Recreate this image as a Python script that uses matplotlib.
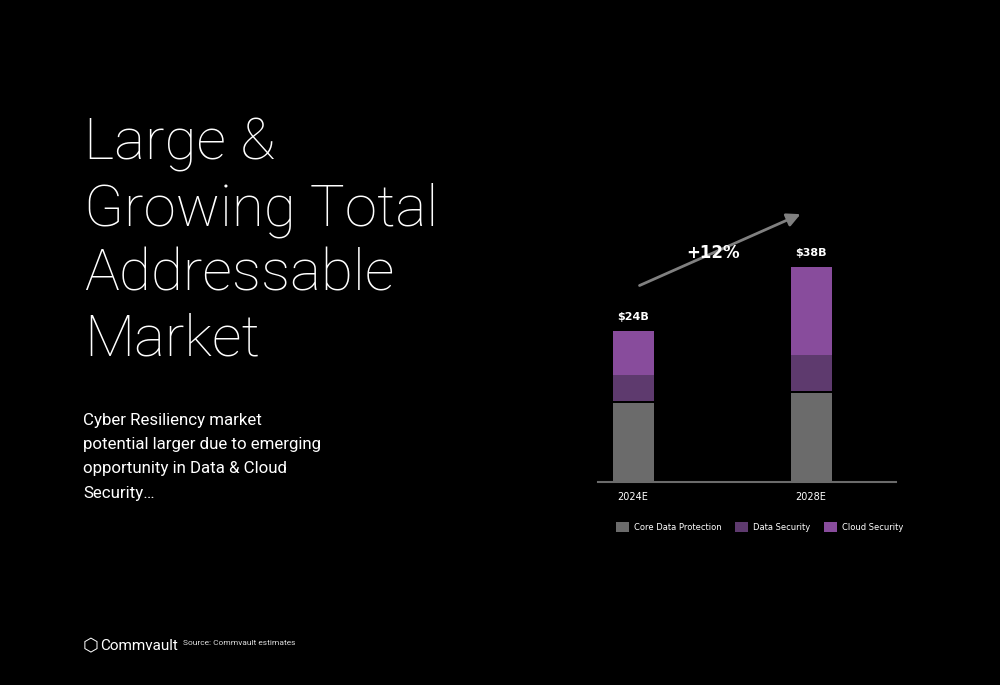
import matplotlib
matplotlib.use("Agg")
import matplotlib.pyplot as plt

years = ["2024E", "2028E"]
core = [14.0, 15.7]
data_sec = [4.9, 6.7]
cloud_sec = [7.8, 15.6]
totals = ["$24B", "$38B"]
cagr = "+12%"

GRAY = "#6b6b6b"
DPURP = "#5e3a6e"
PURP = "#884c9c"
NARROW = "Liberation Sans Narrow"

fig = plt.figure(figsize=(10, 6.85), dpi=100, facecolor="black")

# left-hand text
title = ["Large &", "Growing Total", "Addressable", "Market"]
for i, line in enumerate(title):
    fig.text(0.084, 1 - (145 + 65 * i) / 685, line, color="white", fontsize=42,
             family="Roboto", weight="light", va="center")
sub = ["Cyber Resiliency market", "potential larger due to emerging",
       "opportunity in Data & Cloud", "Security\u2026"]
for i, line in enumerate(sub):
    fig.text(0.083, 1 - (420 + 24.5 * i) / 685, line, color="white", fontsize=12.2,
             family="Roboto", va="center")
fig.text(0.1, 1 - 646 / 685, "Commvault", color="white", fontsize=11,
         family="Roboto", va="center")
fig.text(0.083, 1 - 646 / 685, "\u2b21", color="white", fontsize=13, va="center")
fig.text(0.183, 1 - 643 / 685, "Source: Commvault estimates", color="#dddddd",
         fontsize=6, family="Roboto", va="center")

# chart
ax = fig.add_axes([0.598, (685 - 482) / 685, 0.298, 282 / 685])
ax.set_facecolor("black")
x = [0, 1]
w = 0.23
ax.bar(x, core, w, color=GRAY, label="Core Data Protection")
bot2 = [c + 0.3 for c in core]
ax.bar(x, data_sec, w, bottom=bot2, color=DPURP, label="Data Security")
bot3 = [b + d - 0.3 for b, d in zip(bot2, data_sec)]
ax.bar(x, cloud_sec, w, bottom=bot3, color=PURP, label="Cloud Security")
for xi, c, d, s, t in zip(x, core, data_sec, cloud_sec, totals):
    ax.text(xi, c + d + s + 1.5, t, color="white", ha="center", va="bottom",
            fontsize=8, weight="bold", family=NARROW)
ax.annotate("", xy=(0.955, 47.5), xytext=(0.022, 34.5),
            arrowprops=dict(arrowstyle="-|>,head_length=0.8,head_width=0.4",
                            color="#808080", lw=2))
ax.text(0.45, 40.5, cagr, color="white", ha="center", va="center", fontsize=12,
        family=NARROW, weight="bold")
ax.set_xlim(-0.197, 1.477)
ax.set_ylim(0, 49.8)
ax.set_yticks([])
ax.set_xticks(x)
ax.set_xticklabels(years, color="white", fontsize=7, family=NARROW)
ax.tick_params(axis="x", length=0, pad=7)
for sp in ["top", "right", "left"]:
    ax.spines[sp].set_visible(False)
ax.spines["bottom"].set_color("#6b6b6b")
ax.spines["bottom"].set_linewidth(1.5)

leg = fig.legend(*ax.get_legend_handles_labels(), loc="center left",
                 bbox_to_anchor=(0.608, 1 - 527 / 685), ncol=3, frameon=False,
                 handlelength=1.6, handleheight=1.6,
                 columnspacing=1.6, handletextpad=0.6,
                 prop=dict(family=NARROW, size=6))
for t in leg.get_texts():
    t.set_color("white")

fig.savefig("out.png", facecolor="black")
